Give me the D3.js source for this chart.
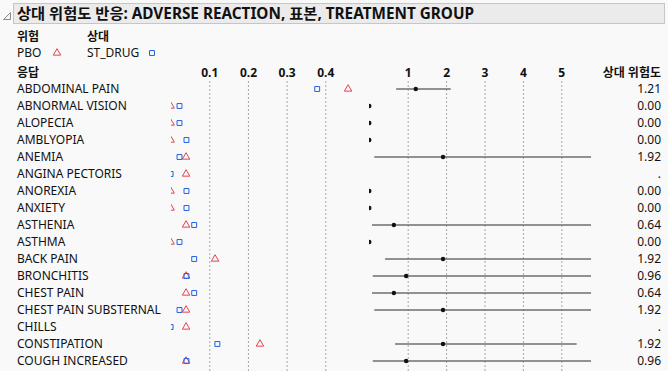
<!DOCTYPE html>
<html>
<head>
<meta charset="utf-8">
<script src="https://cdn.jsdelivr.net/npm/d3@7"></script>
<style>
  html, body { margin: 0; padding: 0; background: #f9f9f9; }
  svg { display: block; font-family: "Noto Sans", "Noto Sans CJK KR", sans-serif; }
</style>
</head>
<body>
<svg id="chart" width="668" height="371"></svg>
<script>
// ── Data ──────────────────────────────────────────────────────────────
const responses = [
  'ABDOMINAL PAIN', 'ABNORMAL VISION', 'ALOPECIA', 'AMBLYOPIA', 'ANEMIA',
  'ANGINA PECTORIS', 'ANOREXIA', 'ANXIETY', 'ASTHENIA', 'ASTHMA',
  'BACK PAIN', 'BRONCHITIS', 'CHEST PAIN', 'CHEST PAIN SUBSTERNAL', 'CHILLS',
  'CONSTIPATION', 'COUGH INCREASED'
];
const pboRisk  = [0.459, 0, 0, 0, 0.040, 0.040, 0, 0, 0.040, 0, 0.115, 0.040, 0.040, 0.040, 0.040, 0.231, 0.040];
const drugRisk = [0.379, 0.023, 0.023, 0.041, 0.023, 0, 0.041, 0.041, 0.061, 0.023, 0.061, 0.041, 0.061, 0.023, 0, 0.121, 0.041];
// null = not estimable ('.')
const relRisk  = [1.21, 0, 0, 0, 1.92, null, 0, 0, 0.64, 0, 1.92, 0.96, 0.64, 1.92, null, 1.92, 0.96];
const ciLow    = [0.70, null, null, null, 0.13, null, null, null, 0.07, null, 0.41, 0.09, 0.07, 0.13, null, 0.67, 0.09];
const ciHigh   = [2.12, null, null, null, 29.3, null, null, null, 5.9, null, 8.9, 10.0, 5.9, 29.3, null, 5.40, 10.0];

const riskTicks = [0.1, 0.2, 0.3, 0.4];
const rrTicks = [1, 2, 3, 4, 5];

const groups = [
  { name: 'PBO', symbol: d3.symbolTriangle, color: '#e8404f' },
  { name: 'ST_DRUG', symbol: d3.symbolSquare, color: '#2161e6' },
];

// ── Layout ────────────────────────────────────────────────────────────
const W = 668, H = 371;
const GRID_TOP = 81;
const ROW_TOP = 80.5, ROW_H = 17;
const LABEL_X = 17, VALUE_X = 661;

const svg = d3.select('#chart');

const xRisk = d3.scaleLinear().domain([0, 0.4]).range([170.6, 325.3]);
const xRR = d3.scaleLinear().domain([0, 5]).range([369.3, 561.3]);
const y = d3.scaleBand().domain(responses)
  .range([ROW_TOP, ROW_TOP + ROW_H * responses.length]);
const yc = d => y(d) + y.bandwidth() / 2;

svg.append('defs').call(defs => {
  defs.append('clipPath').attr('id', 'clip-risk')
    .append('rect').attr('x', 171).attr('y', 0).attr('width', 190).attr('height', H);
  defs.append('clipPath').attr('id', 'clip-rr')
    .append('rect').attr('x', 369).attr('y', 0).attr('width', 222).attr('height', H);
});

// ── Title bar ─────────────────────────────────────────────────────────
svg.append('rect')
  .attr('x', 13.5).attr('y', 3.5).attr('width', 651).attr('height', 20)
  .attr('fill', '#ebebeb').attr('stroke', '#c6c6c6');
svg.append('path')
  .attr('d', 'M10.5,12.5 L10.5,19.5 L3.5,19.5 Z')
  .attr('fill', '#f4f4f4').attr('stroke', '#8a8a8a');
svg.append('text')
  .attr('x', 17).attr('y', 19)
  .attr('font-size', '15.3px').attr('font-weight', 'bold').attr('fill', '#111')
  .text('상대 위험도 반응: ADVERSE REACTION, 표본, TREATMENT GROUP');

// ── Legend ────────────────────────────────────────────────────────────
const head = svg.append('g').attr('font-size', '12px').attr('fill', '#111');
head.append('text').attr('x', 17).attr('y', 41).attr('font-weight', 'bold').text('위험');
head.append('text').attr('x', 87).attr('y', 41).attr('font-weight', 'bold').text('상대');
head.append('text').attr('x', 17).attr('y', 57).text('PBO');
head.append('text').attr('x', 87).attr('y', 57).text('ST_DRUG');
head.append('text').attr('x', 17).attr('y', 77).attr('font-weight', 'bold').text('응답');
head.append('text').attr('x', VALUE_X).attr('y', 77).attr('font-weight', 'bold')
  .attr('text-anchor', 'end').text('상대 위험도');

[[57, 53, groups[0]], [152, 53, groups[1]]].forEach(([lx, ly, g]) => {
  svg.append('path')
    .attr('transform', `translate(${lx},${ly})`)
    .attr('d', d3.symbol(g.symbol, 24)())
    .attr('fill', 'none').attr('stroke', g.color).attr('stroke-width', 1);
});

// ── Axes with dashed grid ─────────────────────────────────────────────
function styleAxis(sel) {
  sel.select('.domain').remove();
  sel.selectAll('.tick line')
    .attr('stroke', '#a8a8a8').attr('stroke-dasharray', '2,2');
  sel.selectAll('.tick text')
    .attr('font-size', '12px').attr('font-weight', 'bold').attr('fill', '#111')
    .attr('font-family', '"Noto Sans", sans-serif');
}

svg.append('g')
  .attr('transform', `translate(0,${GRID_TOP})`)
  .call(d3.axisTop(xRisk).tickValues(riskTicks).tickFormat(d3.format('.1f'))
    .tickSizeInner(-(H - GRID_TOP)).tickSizeOuter(0).tickPadding(4))
  .call(styleAxis);

svg.append('g')
  .attr('transform', `translate(0,${GRID_TOP})`)
  .call(d3.axisTop(xRR).tickValues(rrTicks).tickFormat(d3.format('d'))
    .tickSizeInner(-(H - GRID_TOP)).tickSizeOuter(0).tickPadding(4))
  .call(styleAxis);

// ── Row labels and values ─────────────────────────────────────────────
svg.append('g').selectAll('text')
  .data(responses)
  .join('text')
  .attr('x', LABEL_X).attr('y', d => yc(d)).attr('dy', '0.35em')
  .attr('font-size', '12px').attr('fill', '#111')
  .text(d => d);

svg.append('g').selectAll('text')
  .data(responses)
  .join('text')
  .attr('x', VALUE_X).attr('y', d => yc(d)).attr('dy', '0.35em')
  .attr('text-anchor', 'end')
  .attr('font-size', '12px').attr('fill', '#111')
  .text((d, i) => relRisk[i] == null ? '.' : d3.format('.2f')(relRisk[i]));

// ── Risk markers (squares drawn over triangles) ───────────────────────
const riskG = svg.append('g').attr('clip-path', 'url(#clip-risk)');
[[pboRisk, groups[0]], [drugRisk, groups[1]]].forEach(([vals, g]) => {
  riskG.append('g').selectAll('path')
    .data(responses)
    .join('path')
    .attr('transform', (d, i) => `translate(${xRisk(vals[i])},${yc(d)})`)
    .attr('d', d3.symbol(g.symbol, 24)())
    .attr('fill', 'none').attr('stroke', g.color).attr('stroke-width', 1);
});

// ── Relative risk with CI ─────────────────────────────────────────────
const rrG = svg.append('g').attr('clip-path', 'url(#clip-rr)');
const rows = responses.map((r, i) => ({ r, rr: relRisk[i], lo: ciLow[i], hi: ciHigh[i] }));

rrG.append('g').selectAll('line')
  .data(rows.filter(d => d.lo != null))
  .join('line')
  .attr('x1', d => xRR(d.lo)).attr('x2', d => xRR(d.hi))
  .attr('y1', d => yc(d.r)).attr('y2', d => yc(d.r))
  .attr('stroke', '#6e6e6e').attr('stroke-width', 1.3);

rrG.append('g').selectAll('circle')
  .data(rows.filter(d => d.rr != null))
  .join('circle')
  .attr('cx', d => xRR(d.rr)).attr('cy', d => yc(d.r))
  .attr('r', 2.2).attr('fill', '#111');
</script>
</body>
</html>
